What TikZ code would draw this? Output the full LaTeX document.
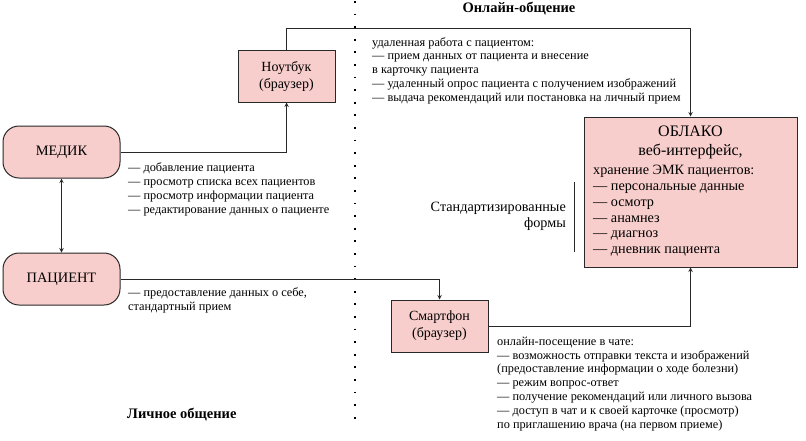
\documentclass[tikz,border=0pt]{standalone}
\usepackage{fontspec}
\setmainfont{Liberation Serif}
\usetikzlibrary{positioning}
\definecolor{boxpink}{RGB}{248,206,204}
\definecolor{edgegray}{RGB}{40,40,40}

\tikzset{
  roundbox/.style={draw=edgegray, fill=boxpink, line width=1pt, rounded corners=16pt,
                   minimum width=117pt, minimum height=52pt, font=\fontsize{14.4}{16}\selectfont},
  devbox/.style={draw=edgegray, fill=boxpink, line width=1pt, minimum width=97pt,
                 minimum height=52pt, align=center, font=\fontsize{14}{17}\selectfont},
  notes/.style={anchor=north west, align=left, inner sep=0pt, font=\fontsize{12.3}{13.9}\selectfont},
  heading/.style={font=\bfseries\fontsize{14.5}{16}\selectfont, inner sep=0pt},
  link/.style={draw=edgegray, line width=1pt},
}

\begin{document}
\begin{tikzpicture}[x=1pt,y=-1pt]
\useasboundingbox (0,0) rectangle (806,440);

% areas
\draw[line width=1.8pt, dash pattern=on 1.8pt off 10.8pt] (355,1) -- (355,425);
\node[heading] (online) at (519,9) {Онлайн-общение};
\node[heading, anchor=west] (personal) at (127,415) {Личное общение};

% participants and devices
\node[roundbox] (medic) at (61.5,152) {МЕДИК};
\node[roundbox] (patient) at (61.5,279) {ПАЦИЕНТ};
\node[devbox] (laptop) at (286.5,76) {Ноутбук\\(браузер)};
\node[devbox] (phone) at (439.5,326) {Смартфон\\(браузер)};

% cloud
\node[draw=edgegray, fill=boxpink, line width=1pt, minimum width=213pt, minimum height=150pt]
  (cloud) at (690.5,192) {};
\node[anchor=north, align=center, inner sep=0pt, font=\fontsize{16}{19}\selectfont]
  (cloudtitle) at (690.5,125.5) {ОБЛАКО\\веб-интерфейс,};
\node[notes, font=\fontsize{14.2}{15.8}\selectfont] (emk) at (593,165) {хранение ЭМК пациентов:\\
  — персональные данные\\— осмотр\\— анамнез\\— диагноз\\— дневник пациента};
\node[anchor=north east, align=right, inner sep=0pt, font=\fontsize{14.2}{16}\selectfont]
  (forms) at (566,202) {Стандартизированные\\формы};
\coordinate (bartop) at (574,182);
\coordinate (barbot) at (574,252);
\draw[edgegray, line width=0.8pt] (bartop) -- (barbot);

% notes
\node[notes] (laptopnotes) at (372,37) {удаленная работа с пациентом:\\
  — прием данных от пациента и внесение\\в карточку пациента\\
  — удаленный опрос пациента с получением изображений\\
  — выдача рекомендаций или постановка на личный прием};
\node[notes] (medicnotes) at (128,162.5) {— добавление пациента\\
  — просмотр списка всех пациентов\\— просмотр информации пациента\\
  — редактирование данных о пациенте};
\node[notes] (patientnotes) at (128,287.5) {— предоставление данных о себе,\\стандартный прием};
\node[notes] (phonenotes) at (497,336.5) {онлайн-посещение в чате:\\
  — возможность отправки текста и изображений\\
  (предоставление информации о ходе болезни)\\
  — режим вопрос-ответ\\
  — получение рекомендаций или личного вызова\\
  — доступ в чат и к своей карточке (просмотр)\\
  по приглашению врача (на первом приеме)};

% connectors
\coordinate (turn) at (690.5,28);
\draw[link, stealth-stealth] (medic) -- (patient);
\draw[link, -stealth] (medic.east) -| (laptop.south);
\draw[link, -stealth] (laptop.north) |- (turn) -- (cloud.north);
\draw[link, -stealth] (patient.east) -| (phone.north);
\draw[link, -stealth] (phone.east) -| (cloud.south);
\end{tikzpicture}
\end{document}
